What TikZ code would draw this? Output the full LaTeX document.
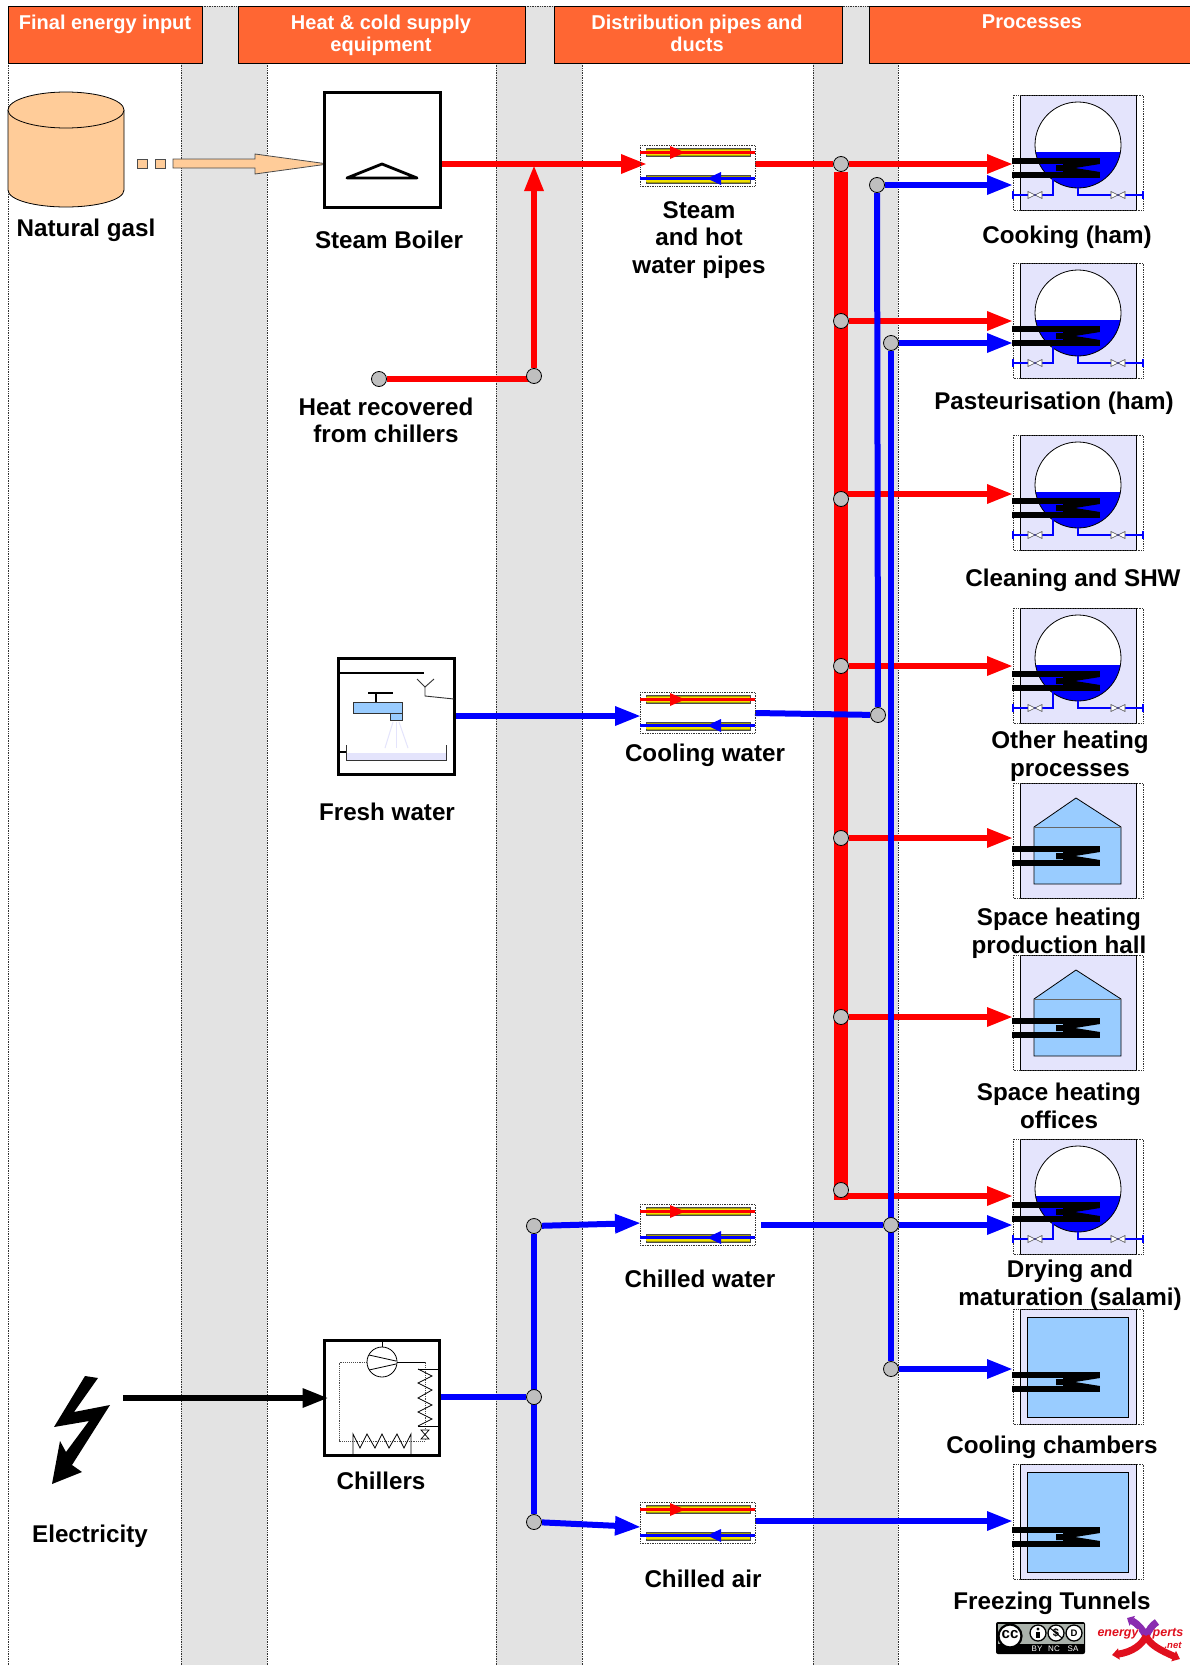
\documentclass[tikz,border=0pt]{standalone}
\usepackage{fontspec}
\setmainfont{Liberation Sans}
\usetikzlibrary{arrows.meta, calc, positioning, backgrounds}
\definecolor{headfill}{HTML}{FF6633}
\definecolor{bandgrey}{HTML}{E3E3E3}
\definecolor{gasfill}{HTML}{FFCC99}
\definecolor{iconfill}{HTML}{E4E4FC}
\definecolor{roomfill}{HTML}{99CCFF}
\definecolor{tubefill}{HTML}{A8A000}
\definecolor{tubemid}{HTML}{F0E000}
\definecolor{ccgrey}{HTML}{AAB2AB}
\definecolor{logopurple}{HTML}{8A2BB0}
\definecolor{logored}{HTML}{E0101E}

\begin{document}
\begin{tikzpicture}[
	x=1pt, y=-1pt,
	box label/.style={font=\fontsize{24.2}{27.5}\selectfont\bfseries, align=center, inner sep=0pt},
	head box/.style={draw=black, line width=0.8pt, fill=headfill},
	head label/.style={font=\fontsize{20}{22}\selectfont\bfseries, text=white, align=center, inner sep=0pt},
	hot line/.style={red, line width=6pt},
	cold line/.style={blue, line width=6pt},
	hot arrow/.style={hot line, -{Triangle[length=26pt, width=18pt]}},
	cold arrow/.style={cold line, -{Triangle[length=26pt, width=18pt]}},
	junction/.style={circle, draw=black, line width=0.8pt, fill=black!25, minimum size=15pt, inner sep=0pt},
	dotted rim/.style={densely dotted, line width=0.7pt, black!80},
	equip box/.style={draw=black, line width=3pt, fill=white},
	column edge/.style={densely dotted, line width=0.7pt, black!80},
	% heating coil shared by all process icons
	coil icon/.pic={
		\fill[black] (-1,63) rectangle (87,69);
		\fill[black] (-1,77) rectangle (87,83);
		\fill[black] (43,70) -- (50,70) -- (50,69) -- (87,69) -- (62,73) -- (87,77) -- (50,77) -- (50,76) -- (43,76) -- cycle;
	},
	rim icon/.pic={
		\fill[iconfill] (7,0) rectangle (123,115);
		\draw[black, line width=0.9pt] (7,115) -- (7,0) -- (123,0) -- (123,115) -- cycle;
		\draw[dotted rim] (0,0) rectangle (130,115);
	},
	tank icon/.pic={
		\pic at (0,0) {rim icon};
		\fill[white] (65,50) circle[radius=43];
		\begin{scope}
			\clip (65,50) circle[radius=43];
			\fill[blue] (20,57) rectangle (110,95);
		\end{scope}
		\draw[black, line width=0.8pt] (65,50) circle[radius=43];
		\draw[blue, line width=2.4pt] (0,100) -- (40,100) -- (40,83);
		\draw[blue, line width=2.4pt] (65,93) -- (65,100) -- (130,100);
		\draw[blue, line width=2.4pt] (0,96) -- (0,104);
		\draw[blue, line width=2.4pt] (130,96) -- (130,104);
		\draw[black!70, fill=white, line width=0.6pt] (15,96.5) -- (29,103.5) -- (29,96.5) -- (15,103.5) -- cycle;
		\draw[black!70, fill=white, line width=0.6pt] (98,96.5) -- (112,103.5) -- (112,96.5) -- (98,103.5) -- cycle;
		\pic at (0,0) {coil icon};
	},
	house icon/.pic={
		\pic at (0,0) {rim icon};
		\draw[black, line width=0.8pt, fill=roomfill] (21,44) -- (63,15) -- (108,44) -- (108,101) -- (21,101) -- cycle;
		\draw[black!60, line width=0.8pt] (21,44) -- (108,44);
		\pic at (0,0) {coil icon};
	},
	chamber icon/.pic={
		\pic at (0,0) {rim icon};
		\draw[black, line width=0.8pt, fill=roomfill] (14,8) rectangle (115,108);
		\pic at (0,0) {coil icon};
	},
	pipe pair/.pic={
		\draw[dotted rim] (0,0) rectangle (115,41);
		\draw[black!70, line width=0.9pt, fill=tubefill] (6,3) rectangle (110,11);
		\draw[black!70, line width=0.9pt, fill=tubefill] (6,30) rectangle (110,38);
		\fill[tubemid] (6,4.5) rectangle (110,9.5);
		\fill[tubemid] (6,31.5) rectangle (110,36.5);
		\draw[red, line width=2.4pt] (0,7.5) -- (115,7.5);
		\draw[blue, line width=2.4pt] (0,33.5) -- (115,33.5);
		\fill[red] (30,1) -- (45,7.5) -- (30,14) -- cycle;
		\fill[blue] (81,27) -- (67,33.5) -- (81,40) -- cycle;
	},
	]
	\useasboundingbox (0,0) rectangle (1190,1665);
	
	% COLUMN BANDS
	\begin{scope}[on background layer]
		\fill[bandgrey] (181,6) rectangle (267,1665);
		\fill[bandgrey] (496,6) rectangle (582,1665);
		\fill[bandgrey] (813,6) rectangle (898,1665);
		\foreach \xpos in {8, 181, 267, 496, 582, 813, 898} {
			\draw[column edge] (\xpos,63) -- (\xpos,1665);
		}
		\draw[column edge] (8,6) -- (1190,6);
	\end{scope}
	
	% Column headers
	\draw[head box] (8,6) rectangle (202,63);
	\draw[head box] (238,6) rectangle (525,63);
	\draw[head box] (554,6) rectangle (842,63);
	\draw[head box] (869,6) -- (1190,6) -- (1190,63) -- (869,63) -- cycle;
	\node[head label, anchor=north] (head input) at (105,15) {Final energy input};
	\node[head label, anchor=north] (head supply) at (381,15) {Heat \& cold supply\\equipment};
	\node[head label, anchor=north] (head pipes) at (697,15) {Distribution pipes and\\ducts};
	\node[head label, anchor=north] (head process) at (1032,15) {Processes};
	
	% Natural gas store
	\draw[black, line width=0.8pt, fill=gasfill] (8,110) -- (8,190) .. controls (8,200) and (35,207) .. (66,207)
	.. controls (97,207) and (124,200) .. (124,190) -- (124,110);
	\draw[black, line width=0.8pt, fill=gasfill] (66,110) ellipse[x radius=58, y radius=18];
	\draw[black!70, line width=0.8pt, fill=gasfill] (137,159) rectangle (147,168);
	\draw[black!70, line width=0.8pt, fill=gasfill] (155,159) rectangle (165,168);
	\draw[black!70, line width=0.8pt, fill=gasfill] (173,159) -- (255,159) -- (255,154) -- (328,164)
	-- (255,174) -- (255,168) -- (173,168) -- cycle;
	\node[box label] (gas label) at (86,230) {Natural gasl};
	
	% Steam boiler
	\node[equip box, minimum width=116pt, minimum height=115pt, inner sep=0pt] (boiler) at (382,149.5) {};
	\draw[black, line width=2.8pt, line join=round] (347,178) -- (382,164) -- (417,178) -- cycle;
	\node[box label] (boiler label) at (389,240) {Steam Boiler};
	\node[box label] (recover label) at (386,420.5) {Heat recovered\\from chillers};
	
	% Fresh water
	\node[equip box, minimum width=116pt, minimum height=116pt, inner sep=0pt] (fresh) at (396,716) {};
	\draw[black, line width=2.4pt] (338,673) -- (424,673);
	\draw[black!80, line width=0.9pt] (417,679) -- (425,687) -- (434,679);
	\draw[black!80, line width=0.9pt] (425,687) -- (425,696) -- (454,699);
	\draw[black, line width=2.2pt] (376,693) -- (376,702);
	\draw[black, line width=2.2pt] (368,693) -- (393,693);
	\draw[black!80, line width=0.7pt, fill=roomfill] (353,702) rectangle (402,713);
	\draw[black!80, line width=0.7pt, fill=roomfill] (390,713) rectangle (402,720);
	\draw[iconfill, line width=1pt] (393,722) -- (385,748);
	\draw[iconfill, line width=1pt] (396,722) -- (396,748);
	\draw[iconfill, line width=1pt] (399,722) -- (408,748);
	\fill[iconfill] (346,753) rectangle (446,760);
	\draw[black!80, line width=0.8pt] (346,745) -- (346,760) -- (446,760) -- (446,745);
	\draw[black, line width=2.4pt] (338,752) -- (346,752);
	\node[box label] (fresh label) at (387,812) {Fresh water};
	
	% Chillers
	\node[equip box, minimum width=115pt, minimum height=115pt, inner sep=0pt] (chillers) at (381.5,1397.5) {};
	\draw[black!70, densely dotted, line width=0.9pt] (367,1362) -- (339,1362) -- (339,1441) -- (425,1441) -- (425,1362);
	\draw[black, line width=0.8pt] (397,1362) -- (425,1362);
	\draw[black, line width=0.8pt, fill=white] (382,1362) circle[radius=15];
	\draw[black, line width=0.8pt] (382,1340) -- (382,1347);
	\draw[black, line width=0.8pt] (369,1355) -- (396,1361);
	\draw[black, line width=0.8pt] (369,1370) -- (396,1364);
	\draw[black, line width=0.8pt] (418,1369) -- (438,1369);
	\draw[black, line width=0.8pt] (418,1426) -- (438,1426);
	\draw[black, line width=0.8pt] (418,1369) -- (432,1376) -- (418,1383) -- (432,1390)
	-- (418,1398) -- (432,1405) -- (418,1412) -- (432,1419) -- (418,1426);
	\draw[black, line width=0.8pt] (353,1455) -- (353,1434) -- (360,1448) -- (367,1434) -- (375,1448)
	-- (382,1434) -- (389,1448) -- (397,1434) -- (404,1448) -- (411,1434) -- (411,1455);
	\draw[black, line width=0.7pt, fill=white] (421,1430) -- (429,1430) -- (421,1439) -- (429,1439) -- cycle;
	\node[box label] (chillers label) at (381,1481) {Chillers};
	
	% Electricity bolt
	\fill[black] (85,1376) -- (98,1378) -- (74,1412) -- (110,1405) -- (72,1465) -- (82,1472) -- (52,1484)
	-- (60,1441) -- (66,1452) -- (89,1421) -- (54,1427) -- cycle;
	\coordinate (bolt out) at (123,1398);
	\node[box label] (bolt label) at (90,1536) {Electricity};
	
	% Distribution pipes
	\pic at (640,145) {pipe pair};
	\pic at (640,692) {pipe pair};
	\pic at (640,1204) {pipe pair};
	\pic at (640,1502) {pipe pair};
	\node[box label] (steam label) at (699,240) {Steam\\and hot\\water pipes};
	\node[box label] (cooling label) at (705,755) {Cooling water};
	\node[box label] (chilled label) at (700,1279) {Chilled water};
	\node[box label] (air label) at (703,1579) {Chilled air};
	
	% Process icons
	\pic at (1013,95) {tank icon};
	\pic at (1013,263) {tank icon};
	\pic at (1013,435) {tank icon};
	\pic at (1013,608) {tank icon};
	\pic at (1013,783) {house icon};
	\pic at (1013,955) {house icon};
	\pic at (1013,1139) {tank icon};
	\pic at (1013,1309) {chamber icon};
	\pic at (1013,1464) {chamber icon};
	\node[box label] (cook label) at (1067,237) {Cooking (ham)};
	\node[box label] (past label) at (1054,403) {Pasteurisation (ham)};
	\node[box label] (clean label) at (1073,580) {Cleaning and SHW};
	\node[box label] (other label) at (1070,756) {Other heating\\processes};
	\node[box label] (hall label) at (1059,933) {Space heating\\production hall};
	\node[box label] (office label) at (1059,1106) {Space heating\\offices};
	\node[box label] (dry label) at (1070,1285) {Drying and\\maturation (salami)};
	\node[box label] (chamber label) at (1052,1447) {Cooling chambers};
	\node[box label] (tunnel label) at (1052,1603) {Freezing Tunnels};
	
	% Free ends of the connectors
	\coordinate (steam in) at (647,164);
	\coordinate (steam out) at (755,164);
	\coordinate (recover top) at (534,165);
	\coordinate (cool in) at (641,716);
	\coordinate (cool out) at (755,713);
	\coordinate (chw in) at (641,1223);
	\coordinate (chw out) at (761,1225);
	\coordinate (air in) at (641,1527);
	\coordinate (air out) at (755,1521);
	\coordinate (bus end) at (841,1200);
	\coordinate (cook hot) at (1013,164);
	\coordinate (cook cold) at (1013,185);
	\coordinate (past hot) at (1013,321);
	\coordinate (past cold) at (1013,343);
	\coordinate (clean hot) at (1013,494);
	\coordinate (other hot) at (1013,666);
	\coordinate (hall hot) at (1013,838);
	\coordinate (office hot) at (1013,1017);
	\coordinate (dry hot) at (1013,1196);
	\coordinate (dry cold) at (1013,1225);
	\coordinate (chamber cold) at (1013,1369);
	\coordinate (tunnel cold) at (1013,1521);
	
	% Junctions
	\node[junction] (recover start) at (379,379) {};
	\node[junction] (recover joint) at (534,376) {};
	\node[junction] (chill top) at (534,1226) {};
	\node[junction] (chill mid) at (534,1397) {};
	\node[junction] (chill low) at (534,1522) {};
	\node[junction] (red a) at (841,164) {};
	\node[junction] (red b) at (841,321) {};
	\node[junction] (red c) at (841,499) {};
	\node[junction] (red d) at (841,666) {};
	\node[junction] (red e) at (841,838) {};
	\node[junction] (red f) at (841,1017) {};
	\node[junction] (red g) at (841,1190) {};
	\node[junction] (blue a) at (877,185) {};
	\node[junction] (blue b) at (878,715) {};
	\node[junction] (blue c) at (891,343) {};
	\node[junction] (blue d) at (891,1225) {};
	\node[junction] (blue e) at (891,1369) {};
	
	\begin{scope}[on background layer]
		% RED SIDE
		\draw[hot arrow] (boiler.east |- steam in) -- (steam in);
		\draw[hot line] (recover start) -- (recover start -| recover joint);
		\draw[hot arrow] (recover joint) -- (recover top);
		\draw[hot line] (steam out) -- (red a);
		\draw[red, line width=14pt] (red a) -- (bus end);
		\draw[hot arrow] (red a) -- (cook hot);
		\draw[hot arrow] (red b) -- (past hot);
		\draw[hot arrow] (red c |- clean hot) -- (clean hot);
		\draw[hot arrow] (red d) -- (other hot);
		\draw[hot arrow] (red e) -- (hall hot);
		\draw[hot arrow] (red f) -- (office hot);
		\draw[hot arrow] ([xshift=-7pt]bus end |- dry hot) -- (dry hot);
		
		% BLUE SIDE
		\draw[cold arrow] (fresh.east |- cool in) -- (cool in);
		\draw[cold line] (cool out) -- (blue b);
		\draw[cold line] (blue a) -- (blue b);
		\draw[cold line] (blue c) -- (blue e);
		\draw[cold arrow] (blue a) -- (cook cold);
		\draw[cold arrow] (blue c) -- (past cold);
		\draw[cold line] (chw out) -- (blue d);
		\draw[cold arrow] (blue d) -- (dry cold);
		\draw[cold arrow] (blue e) -- (chamber cold);
		\draw[cold arrow] (air out) -- (tunnel cold);
		\draw[cold line] (chillers.east |- chill mid) -- (chill mid);
		\draw[cold line] (chill top) -- (chill low);
		\draw[cold arrow] (chill top) -- (chw in);
		\draw[cold arrow] (chill low) -- (air in);
	\end{scope}
	\draw[black, line width=6pt, -{Triangle[length=26pt, width=18pt]}] (bolt out) -- ([xshift=6pt]chillers.west |- bolt out);
	
	% Licence badge
	\fill[black, rounded corners=2pt] (996,1622) rectangle (1085,1654);
	\fill[ccgrey] (997.5,1623.5) rectangle (1083.5,1644);
	\draw[black, line width=2.2pt, fill=white] (1010,1636) circle[radius=11.5];
	\node[font=\fontsize{15}{15}\selectfont\bfseries, inner sep=0pt] (cc mark) at (1010,1635) {cc};
	\foreach \xpos in {1038, 1056, 1074} {
		\draw[black, line width=1.3pt, fill=white] (\xpos,1633) circle[radius=8];
	}
	\fill[black] (1038,1629) circle[radius=1.6];
	\fill[black] (1036,1631.5) rectangle (1040,1638);
	\node[font=\fontsize{11}{11}\selectfont\bfseries, inner sep=0pt] (nc mark) at (1056,1633) {\$};
	\draw[black, line width=1pt] (1050,1628) -- (1062,1638);
	\node[font=\fontsize{9.5}{9.5}\selectfont\bfseries, inner sep=0pt] (sa mark) at (1074,1633) {D};
	\node[font=\fontsize{8}{8}\selectfont, text=white, inner sep=0pt] (by mark) at (1037,1649) {BY};
	\node[font=\fontsize{8}{8}\selectfont, text=white, inner sep=0pt] (nc word) at (1054,1649) {NC};
	\node[font=\fontsize{8}{8}\selectfont, text=white, inner sep=0pt] (sa word) at (1073,1649) {SA};
	
	% Company logo
	\draw[logopurple, line width=7pt, -{Triangle[length=6pt, width=11pt]}] (1146,1636) .. controls (1143,1630) and (1138,1624) .. (1127,1618);
	\draw[logopurple, line width=7pt] (1146,1636) .. controls (1149,1630) and (1152,1625) .. (1157,1622);
	\draw[logored, line width=7pt, -{Triangle[length=7pt, width=11pt]}] (1146,1636) .. controls (1150,1645) and (1160,1650) .. (1180,1659);
	\draw[logored, line width=7pt, -{Triangle[length=7pt, width=11pt]}] (1146,1636) .. controls (1142,1645) and (1132,1652) .. (1112,1655);
	\node[font=\fontsize{12.5}{12.5}\selectfont\bfseries\itshape, text=logored, fill=white, inner sep=0.5pt] (logo left) at (1118,1634) {energy};
	\node[font=\fontsize{12.5}{12.5}\selectfont\bfseries\itshape, text=logored, inner sep=0pt] (logo right) at (1168,1634) {perts};
	\node[font=\fontsize{9.5}{9.5}\selectfont\bfseries\itshape, text=logored, inner sep=0pt] (logo net) at (1173,1645) {.net};
\end{tikzpicture}
\end{document}
